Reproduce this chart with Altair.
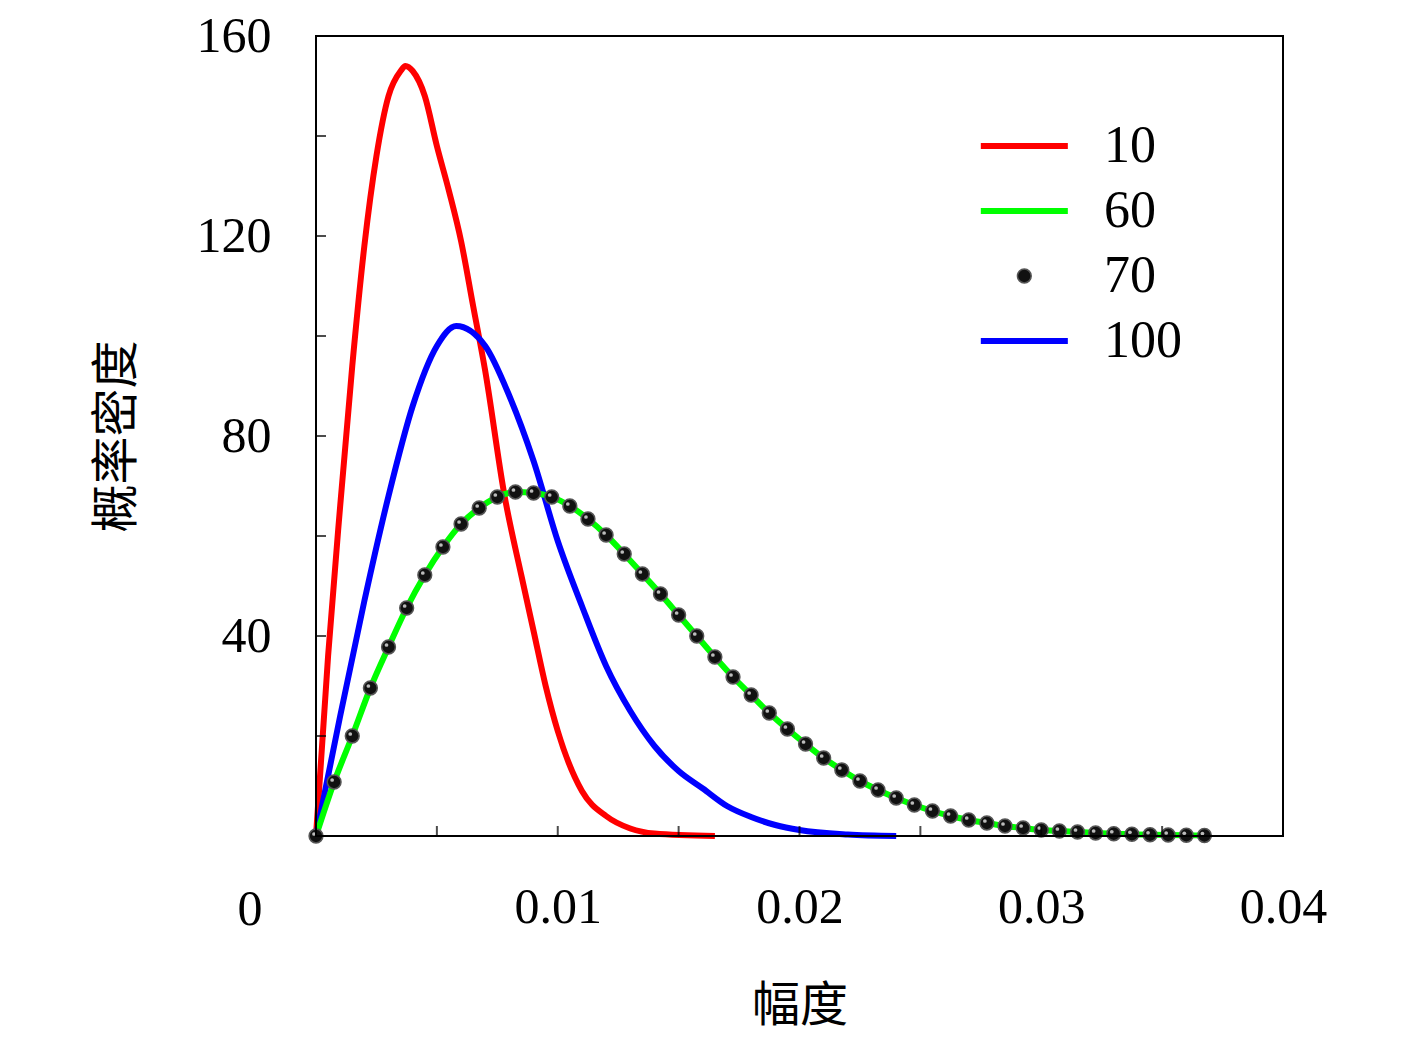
import altair as alt
import pandas as pd

# curve "10"
red_x = [0, 0.0005, 0.001, 0.0015, 0.002, 0.0025, 0.003, 0.0035, 0.0037, 0.004, 0.0045, 0.005, 0.0055,
         0.006, 0.0065, 0.007, 0.0078, 0.0085, 0.009, 0.0095, 0.01, 0.011, 0.012, 0.013, 0.014, 0.0165]
red_y = [0, 36, 66, 94, 118, 136, 148, 153, 154, 153, 148, 138, 129,
         119, 106, 93, 68, 52, 41, 30, 21, 9, 4, 1.5, 0.5, 0]

# curve "100"
blue_x = [0, 0.001, 0.002, 0.003, 0.004, 0.005, 0.0058, 0.007, 0.008, 0.009, 0.01, 0.011, 0.012,
          0.013, 0.014, 0.015, 0.016, 0.017, 0.018, 0.019, 0.02, 0.022, 0.024]
blue_y = [0, 24, 47, 68, 86, 98, 102, 98, 88, 75, 59, 46, 34,
          25, 18, 13, 9.5, 6, 3.8, 2.2, 1.2, 0.3, 0]

# curves "60" (line) and "70" (dots) share the same values
dot_x = [0, 0.00075, 0.0015, 0.00225, 0.003, 0.00375, 0.0045, 0.00525, 0.006, 0.00675,
         0.0075, 0.00825, 0.009, 0.00975, 0.0105, 0.01125, 0.012, 0.01275, 0.0135, 0.01425,
         0.015, 0.01575, 0.0165, 0.01725, 0.018, 0.01875, 0.0195, 0.02025, 0.021, 0.02175,
         0.0225, 0.02325, 0.024, 0.02475, 0.0255, 0.02625, 0.027, 0.02775, 0.0285, 0.02925,
         0.03, 0.03075, 0.0315, 0.03225, 0.033, 0.03375, 0.0345, 0.03525, 0.036, 0.03675]
dot_y = [0, 10.8, 20, 29.6, 37.8, 45.6, 52.2, 57.8, 62.4, 65.6,
         67.8, 68.8, 68.6, 67.8, 66, 63.4, 60.2, 56.4, 52.4, 48.4,
         44.2, 40, 35.8, 31.8, 28.2, 24.6, 21.4, 18.4, 15.6, 13.2,
         11, 9.2, 7.6, 6.2, 5, 4, 3.2, 2.6, 2, 1.6,
         1.2, 1, 0.8, 0.6, 0.45, 0.35, 0.25, 0.2, 0.15, 0.1]

x_ticks = [0.005, 0.01, 0.015, 0.02, 0.025, 0.03, 0.035]
y_ticks = [20, 40, 60, 80, 100, 120, 140]

legend_labels = ["10", "60", "70", "100"]
legend_colors = ["#ff0000", "#00ff00", "black", "#0000ff"]
legend_y = [138, 125, 112, 99]

SERIF = "Liberation Serif"
CJK = "Noto Sans CJK SC"

xs = alt.Scale(domain=[0, 0.04], nice=False)
ys = alt.Scale(domain=[0, 160], nice=False)

xax = alt.Axis(values=[0.01, 0.02, 0.03, 0.04], labelExpr="format(datum.value, '.2~f')",
               labelFontSize=50, labelFont=SERIF, labelFlush=False,
               labelPadding=46, ticks=False, domain=False, grid=False, title="幅度",
               titleFont=CJK, titleFontSize=48, titleFontWeight="normal", titlePadding=50,
               labelColor="black", titleColor="black")
yax = alt.Axis(values=[40, 80, 120, 160], labelFontSize=50, labelFont=SERIF, labelPadding=45,
               labelFlush=False, ticks=False, domain=False, grid=False, title="概率密度",
               titleFont=CJK, titleFontSize=48, titleFontWeight="normal", titlePadding=55,
               labelColor="black", titleColor="black")

red = pd.DataFrame({"x": red_x, "y": red_y})
blue = pd.DataFrame({"x": blue_x, "y": blue_y})
dots = pd.DataFrame({"x": dot_x, "y": dot_y})

base_red = alt.Chart(red).mark_line(color="#ff0000", strokeWidth=6, interpolate="monotone").encode(
    x=alt.X("x:Q", scale=xs, axis=xax), y=alt.Y("y:Q", scale=ys, axis=yax))
line_blue = alt.Chart(blue).mark_line(color="#0000ff", strokeWidth=6, interpolate="monotone").encode(
    x=alt.X("x:Q", scale=xs), y=alt.Y("y:Q", scale=ys))
line_green = alt.Chart(dots).mark_line(color="#00ff00", strokeWidth=6, interpolate="monotone").encode(
    x=alt.X("x:Q", scale=xs), y=alt.Y("y:Q", scale=ys))
pts = alt.Chart(dots).mark_circle(color="#111111", opacity=1, size=190, stroke="#555555",
                                   strokeWidth=1.5).encode(
    x=alt.X("x:Q", scale=xs), y=alt.Y("y:Q", scale=ys))
shine = alt.Chart(dots).mark_circle(color="#bbbbbb", opacity=1, size=14, xOffset=-2, yOffset=-2).encode(
    x=alt.X("x:Q", scale=xs), y=alt.Y("y:Q", scale=ys))

xt = alt.Chart(pd.DataFrame({"x": x_ticks})).mark_tick(
    color="black", size=10, thickness=2, orient="vertical", yOffset=-5).encode(
    x=alt.X("x:Q", scale=xs), y=alt.value(800))
yt = alt.Chart(pd.DataFrame({"y": y_ticks})).mark_tick(
    color="black", size=10, thickness=2, orient="horizontal", xOffset=5).encode(
    y=alt.Y("y:Q", scale=ys), x=alt.value(0))
zero = alt.Chart(pd.DataFrame({"x": [0], "t": ["0"]})).mark_text(
    font=SERIF, fontSize=50, dx=-66, dy=74, color="black").encode(
    x=alt.X("x:Q", scale=xs), y=alt.value(800), text="t:N")
frame = alt.Chart(pd.DataFrame({"a": [0]})).mark_rect(
    fill=None, stroke="black", strokeWidth=2).encode(
    x=alt.value(0), x2=alt.value(967), y=alt.value(0), y2=alt.value(800))

leg = pd.DataFrame({"label": legend_labels, "color": legend_colors, "y": legend_y,
                    "x1": [0.0275] * 4, "x2": [0.0311] * 4, "xm": [0.0293] * 4, "xt": [0.0326] * 4})
leg_lines = alt.Chart(leg[leg.label != "70"]).mark_rule(strokeWidth=6).encode(
    x=alt.X("x1:Q", scale=xs), x2="x2:Q", y=alt.Y("y:Q", scale=ys),
    color=alt.Color("color:N", scale=None))
leg_dot = alt.Chart(leg[leg.label == "70"]).mark_circle(color="#111111", opacity=1, size=190,
                                                        stroke="#555555", strokeWidth=1.5).encode(
    x=alt.X("xm:Q", scale=xs), y=alt.Y("y:Q", scale=ys))
leg_text = alt.Chart(leg).mark_text(font=SERIF, fontSize=52, align="left", color="black").encode(
    x=alt.X("xt:Q", scale=xs), y=alt.Y("y:Q", scale=ys), text="label:N")

chart = alt.layer(base_red, line_blue, line_green, pts, shine, xt, yt, zero, frame,
                  leg_lines, leg_dot, leg_text).properties(
    width=967, height=800,
    autosize=alt.AutoSizeParams(type="none"),
    padding={"left": 308, "top": 28, "right": 120, "bottom": 200},
).configure(background="white").configure_view(stroke=None)

chart.save("out.html", embed_options={"renderer": "svg", "actions": False})
